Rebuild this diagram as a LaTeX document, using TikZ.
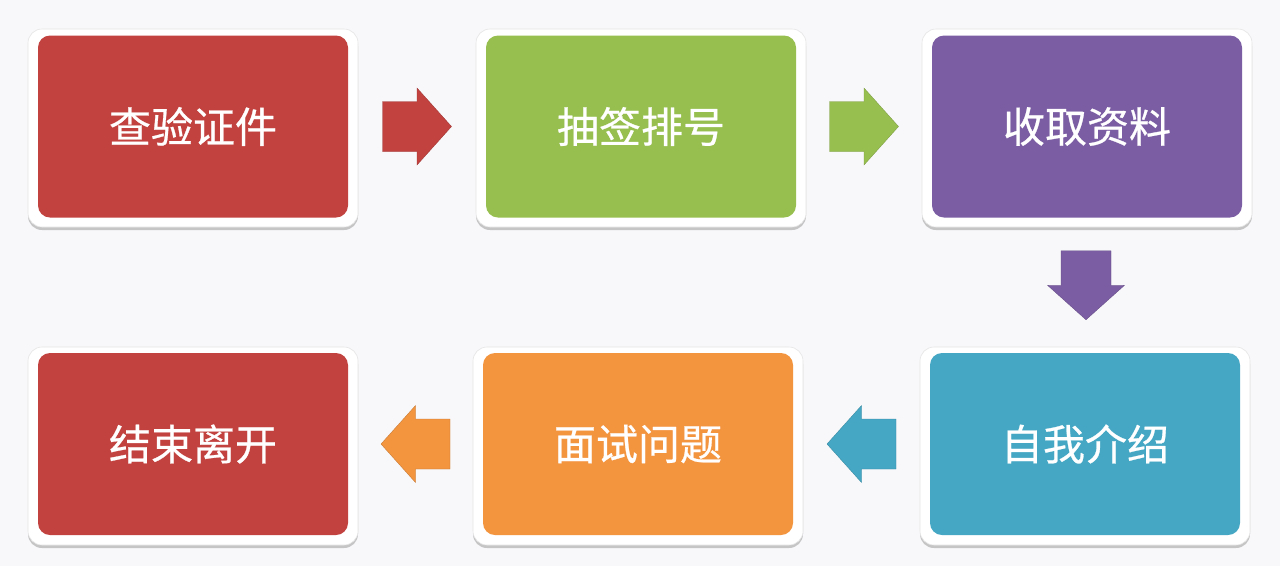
\documentclass[tikz,border=0pt]{standalone}
\usepackage{fontspec}
\newfontfamily\cjk[FakeBold=0.6]{Noto Sans CJK SC}
\usetikzlibrary{calc,shadows}
\definecolor{bg}{HTML}{F8F8FA}
\definecolor{cred}{HTML}{C2423F}
\definecolor{cgreen}{HTML}{97BF4F}
\definecolor{cpurple}{HTML}{7B5DA3}
\definecolor{ccyan}{HTML}{45A7C4}
\definecolor{corange}{HTML}{F3943F}
\tikzset{
  x=1pt,y=-1pt,
  frame/.style={fill=white,draw=black!10,line width=0.6pt,rounded corners=14pt,minimum width=330pt,minimum height=198pt,
    drop shadow={shadow xshift=0pt,shadow yshift=-3pt,opacity=0.35,fill=black!60}},
  card/.style={fill=#1,rounded corners=12pt,minimum width=310pt,minimum height=182pt,
    inner sep=0pt,font=\cjk\fontsize{42}{50}\selectfont,text=white},
  blockarrow/.pic={
    \path[pic actions] (-34.5,-25) -- (0,-25) -- (0,-38.5) -- (34.5,0) -- (0,38.5) -- (0,25) -- (-34.5,25) -- cycle;
  },
  arr/.style={fill=#1,draw=#1!80!black,line width=0.3pt}
}
\begin{document}
\begin{tikzpicture}
\useasboundingbox[fill=bg] (0,0) rectangle (1280,566);
% frames
\foreach \cx/\cy in {193/127, 641/127, 1087/127, 193/445, 638/445, 1085/445}{
  \node[frame] at (\cx,\cy+1) {};
}
% cards
\node[card=cred]    (b1) at (193,126.5) {查验证件};
\node[card=cgreen]  (b2) at (641,126.5) {抽签排号};
\node[card=cpurple] (b3) at (1087,126.5) {收取资料};
\node[card=ccyan]   (b6) at (1085,444) {自我介绍};
\node[card=corange] (b5) at (638,444) {面试问题};
\node[card=cred]    (b4) at (193,444) {结束离开};
% arrows
\pic[arr=cred] at ($(b1.east)!0.5!(b2.west)$) {blockarrow};
\pic[arr=cgreen] at ($(b2.east)!0.5!(b3.west)$) {blockarrow};
\pic[arr=cpurple,rotate=-90] at ($(b3.south)!0.5!(b6.north)$) {blockarrow};
\pic[arr=ccyan,rotate=180] at ($(b6.west)!0.5!(b5.east)$) {blockarrow};
\pic[arr=corange,rotate=180] at ($(b5.west)!0.5!(b4.east)$) {blockarrow};
\end{tikzpicture}
\end{document}
